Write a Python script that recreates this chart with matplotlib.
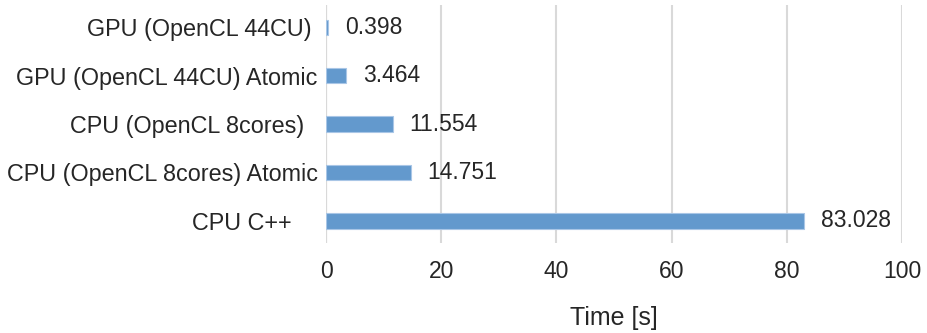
import matplotlib
matplotlib.use("Agg")
import matplotlib.pyplot as plt

plt.rcParams['font.family'] = ['Liberation Sans', 'DejaVu Sans']

categories = ["GPU (OpenCL 44CU) ", "GPU (OpenCL 44CU) Atomic",
              "CPU (OpenCL 8cores)  ", "CPU (OpenCL 8cores) Atomic",
              "CPU C++    "]
times = [0.398, 3.464, 11.554, 14.751, 83.028]
value_labels = ["0.398", "3.464", "11.554", "14.751", "83.028"]
xticks = [0, 20, 40, 60, 80, 100]

fig = plt.figure(figsize=(9.28, 3.33), dpi=100)
ax = fig.add_axes([0.3513, 0.27, 0.6207, 0.715])

ypos = list(range(len(categories)))
ax.barh(ypos, times, height=0.32, color="#6399CD", edgecolor="#A9C6E6",
        linewidth=0.8, zorder=3)

for y, v, lab in zip(ypos, times, value_labels):
    ax.annotate(lab, (v, y), xytext=(12, 0), textcoords="offset points",
                va="center", ha="left", fontsize=16.5, color="#262626")

ax.set_xlim(0, 100)
ax.set_ylim(4.46, -0.46)
ax.set_xticks(xticks)
ax.set_yticks(ypos)
ax.set_yticklabels(categories)
ax.tick_params(axis="x", length=0, labelsize=16.5, colors="#262626", pad=12.5)
ax.tick_params(axis="y", length=0, labelsize=16.8, colors="#262626", pad=6)

ax.grid(axis="x", color="#D9D9D9", linewidth=1.5, zorder=0)
for s in ax.spines.values():
    s.set_visible(False)
ax.axvline(0, color="#CFCFCF", linewidth=1.5, zorder=1)

ax.set_xlabel("Time [s]", fontsize=18, color="#262626", labelpad=16)

fig.savefig("out.png", dpi=100)
